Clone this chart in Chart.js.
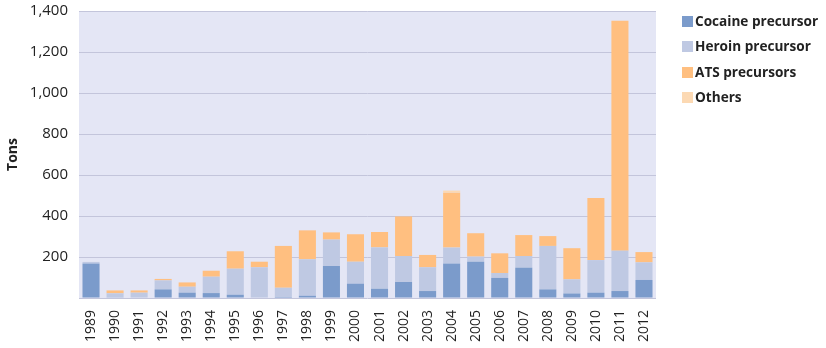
<!DOCTYPE html>
<html lang="en">
<head>
    <meta charset="UTF-8">
    <title>Precursor seizures</title>
    <script src="https://cdn.jsdelivr.net/npm/chart.js"></script>
    <style>
        body { margin: 0; background: #fff; font-family: "Open Sans", sans-serif; }
        #wrap { position: relative; width: 826px; height: 348px; }
        #leyenda { position: absolute; left: 682px; top: 12px; margin: 0; padding: 0; list-style: none; }
        #leyenda li { height: 25.3px; line-height: 18px; font-weight: bold; font-size: 13.6px; color: #222; white-space: nowrap; }
        #leyenda span { display: inline-block; width: 11px; height: 11px; margin-right: 2px; vertical-align: -1px; }
    </style>
</head>
<body>
    <div id="wrap">
        <canvas id="grafico"></canvas>
        <ul id="leyenda"></ul>
    </div>
    <script>
        const years = ['1989','1990','1991','1992','1993','1994','1995','1996','1997','1998','1999','2000',
                       '2001','2002','2003','2004','2005','2006','2007','2008','2009','2010','2011','2012'];
        const cocaine = [168, 3, 0, 42, 26, 24, 16, 0, 5, 11, 156, 70, 45, 78, 34, 168, 177, 98, 148, 42, 22, 26, 34, 88];
        const heroin = [8, 20, 26, 44, 29, 80, 127, 150, 45, 178, 129, 107, 202, 127, 116, 78, 25, 24, 57, 212, 69, 159, 197, 86];
        const ats = [0, 14, 11, 7, 21, 29, 85, 27, 204, 141, 35, 134, 75, 193, 60, 268, 114, 96, 102, 48, 152, 303, 1122, 50];
        const others = [0, 0, 0, 0, 0, 0, 0, 0, 0, 0, 0, 0, 0, 0, 0, 10, 0, 0, 0, 0, 0, 0, 0, 0];
        const yTicks = [200, 400, 600, 800, 1000, 1200, 1400];

        const series = [
            { label: 'Cocaine precursor', data: cocaine, color: '#7b9bcb' },
            { label: 'Heroin precursor', data: heroin, color: '#bfc9e3' },
            { label: 'ATS precursors', data: ats, color: '#ffbf80' },
            { label: 'Others', data: others, color: '#fcd9b3' }
        ];

        // fondo del área de trazado
        const fondoPlot = {
            id: 'fondoPlot',
            beforeDraw(chart) {
                const a = chart.chartArea;
                chart.ctx.save();
                chart.ctx.fillStyle = '#e4e6f5';
                chart.ctx.fillRect(a.left, a.top, a.right - a.left, a.bottom - a.top);
                chart.ctx.restore();
            }
        };

        new Chart(document.getElementById('grafico'), {
            type: 'bar',
            data: {
                labels: years,
                datasets: series.map(s => ({
                    label: s.label,
                    data: s.data,
                    backgroundColor: s.color,
                    borderWidth: 0,
                    categoryPercentage: 1,
                    barPercentage: 0.71
                }))
            },
            options: {
                responsive: true,
                maintainAspectRatio: false,
                animation: false,
                layout: { padding: { top: 11, right: 170, left: 5, bottom: 0 } },
                plugins: { legend: { display: false }, tooltip: { enabled: false } },
                scales: {
                    x: {
                        stacked: true,
                        grid: { display: false },
                        border: { display: false },
                        ticks: {
                            minRotation: 90, maxRotation: 90, autoSkip: false,
                            color: '#222', padding: 4,
                            font: { family: 'Open Sans', size: 14 }
                        },
                        afterFit(axis) { axis.height = 50; }
                    },
                    y: {
                        stacked: true,
                        min: 0, max: 1400,
                        afterBuildTicks(axis) { axis.ticks = [0].concat(yTicks).map(v => ({ value: v })); },
                        grid: { color: '#c3c5db', lineWidth: 1, drawTicks: false },
                        border: { display: false },
                        ticks: {
                            color: '#222', padding: 11,
                            font: { family: 'Open Sans', size: 15 },
                            callback: v => v === 0 ? '' : v.toLocaleString('en-US')
                        },
                        title: {
                            display: true, text: 'Tons', color: '#222', padding: 0,
                            font: { family: 'Open Sans', size: 14, weight: 'bold' }
                        },
                        afterFit(axis) { axis.width = 74; axis.paddingTop = 0; axis.paddingBottom = 0; }
                    }
                }
            },
            plugins: [fondoPlot]
        });

        // leyenda en HTML
        const ul = document.getElementById('leyenda');
        series.forEach(s => {
            const li = document.createElement('li');
            const sw = document.createElement('span');
            sw.style.background = s.color;
            li.appendChild(sw);
            li.appendChild(document.createTextNode(s.label));
            ul.appendChild(li);
        });
    </script>
</body>
</html>
